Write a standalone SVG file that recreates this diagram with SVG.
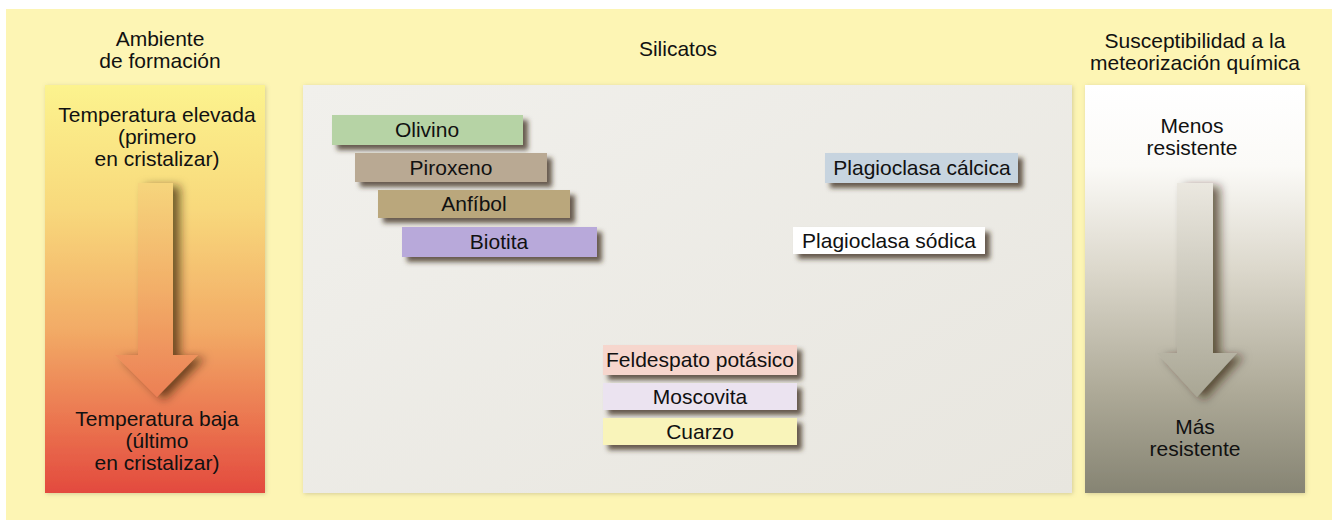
<svg xmlns="http://www.w3.org/2000/svg" width="1332" height="520" viewBox="0 0 1332 520">
  <style>
    text { font-family: "Liberation Sans", Arial, sans-serif; font-size: 21px; fill: #111; text-anchor: middle; }
    .bar { filter: url(#barShadow); }
    .panel { filter: url(#panelShadow); }
  </style>
  <defs>
    <linearGradient id="warm" x1="0" y1="0" x2="0" y2="1">
      <stop offset="0" stop-color="#fcf38e"/>
      <stop offset="0.3" stop-color="#f8d97c"/>
      <stop offset="0.6" stop-color="#f2ab66"/>
      <stop offset="0.82" stop-color="#eb7650"/>
      <stop offset="1" stop-color="#e34a3e"/>
    </linearGradient>
    <linearGradient id="warmArrow" x1="0" y1="0" x2="0" y2="1">
      <stop offset="0" stop-color="#f6d57c"/>
      <stop offset="0.5" stop-color="#f2ae68"/>
      <stop offset="1" stop-color="#ec7f55"/>
    </linearGradient>
    <linearGradient id="grey" x1="0" y1="0" x2="0" y2="1">
      <stop offset="0" stop-color="#ffffff"/>
      <stop offset="0.2" stop-color="#fbfaf7"/>
      <stop offset="0.45" stop-color="#dcd8cc"/>
      <stop offset="0.75" stop-color="#aeaa98"/>
      <stop offset="1" stop-color="#868473"/>
    </linearGradient>
    <linearGradient id="greyArrow" x1="0" y1="0" x2="0" y2="1">
      <stop offset="0" stop-color="#ebe8e0"/>
      <stop offset="1" stop-color="#a9a694"/>
    </linearGradient>
    <linearGradient id="centerFill" x1="0" y1="0" x2="1" y2="1">
      <stop offset="0" stop-color="#f1f0ec"/>
      <stop offset="1" stop-color="#e8e6df"/>
    </linearGradient>
    <filter id="barShadow" x="-10%" y="-30%" width="130%" height="180%">
      <feGaussianBlur in="SourceAlpha" stdDeviation="2.5"/>
      <feOffset dx="5" dy="5" result="b"/>
      <feFlood flood-color="#3a2a1a" flood-opacity="0.75"/>
      <feComposite in2="b" operator="in"/>
      <feMerge><feMergeNode/><feMergeNode in="SourceGraphic"/></feMerge>
    </filter>
    <filter id="panelShadow" x="-5%" y="-5%" width="110%" height="110%">
      <feGaussianBlur in="SourceAlpha" stdDeviation="2"/>
      <feOffset dx="1" dy="1" result="b"/>
      <feFlood flood-color="#8a8060" flood-opacity="0.35"/>
      <feComposite in2="b" operator="in"/>
      <feMerge><feMergeNode/><feMergeNode in="SourceGraphic"/></feMerge>
    </filter>
    <filter id="arrowShadow" x="-50%" y="-20%" width="200%" height="140%">
      <feGaussianBlur in="SourceAlpha" stdDeviation="5"/>
      <feOffset dx="7" dy="3" result="b"/>
      <feFlood flood-color="#2a1a0a" flood-opacity="0.65"/>
      <feComposite in2="b" operator="in"/>
      <feMerge><feMergeNode/><feMergeNode in="SourceGraphic"/></feMerge>
    </filter>
  </defs>

  <rect x="0" y="0" width="1332" height="520" fill="#ffffff"/>
  <rect x="6" y="9" width="1326" height="511" fill="#fdf5b4"/>

  <g id="left-panel">
    <text x="160" y="46">Ambiente</text>
    <text x="160" y="68">de formación</text>
    <rect class="panel" x="45" y="85" width="220" height="408" fill="url(#warm)"/>
    <text x="157" y="122">Temperatura elevada</text>
    <text x="157" y="144">(primero</text>
    <text x="157" y="166">en cristalizar)</text>
    <path d="M138,183 H173 V355 H198 L157,397 L115,355 H138 Z" fill="url(#warmArrow)" filter="url(#arrowShadow)"/>
    <text x="157" y="426">Temperatura baja</text>
    <text x="157" y="448">(último</text>
    <text x="157" y="470">en cristalizar)</text>
  </g>

  <g id="center-panel">
    <text x="678" y="56">Silicatos</text>
    <rect class="panel" x="303" y="85" width="769" height="408" fill="url(#centerFill)"/>
  </g>

  <g id="olivino">
    <rect class="bar" x="332" y="115" width="191" height="30" fill="#b6d3a5"/>
    <text x="427" y="137">Olivino</text>
  </g>
  <g id="piroxeno">
    <rect class="bar" x="355" y="153" width="192" height="29" fill="#b9a993"/>
    <text x="451" y="175">Piroxeno</text>
  </g>
  <g id="anfibol">
    <rect class="bar" x="378" y="190" width="192" height="28" fill="#baa77c"/>
    <text x="474" y="211">Anfíbol</text>
  </g>
  <g id="biotita">
    <rect class="bar" x="402" y="227" width="195" height="30" fill="#b8a9da"/>
    <text x="499" y="249">Biotita</text>
  </g>
  <g id="plagioclasa-calcica">
    <rect class="bar" x="825" y="153" width="193" height="30" fill="#c7d4df"/>
    <text x="922" y="175">Plagioclasa cálcica</text>
  </g>
  <g id="plagioclasa-sodica">
    <rect class="bar" x="793" y="227" width="192" height="27" fill="#ffffff"/>
    <text x="889" y="248">Plagioclasa sódica</text>
  </g>
  <g id="feldespato">
    <rect class="bar" x="603" y="345" width="194" height="30" fill="#f6d6cd"/>
    <text x="700" y="367">Feldespato potásico</text>
  </g>
  <g id="moscovita">
    <rect class="bar" x="603" y="383" width="194" height="27" fill="#ebe3f0"/>
    <text x="700" y="404">Moscovita</text>
  </g>
  <g id="cuarzo">
    <rect class="bar" x="603" y="418" width="194" height="27" fill="#f9f4ba"/>
    <text x="700" y="439">Cuarzo</text>
  </g>

  <g id="right-panel">
    <text x="1195" y="48">Susceptibilidad a la</text>
    <text x="1195" y="70">meteorización química</text>
    <rect class="panel" x="1085" y="85" width="220" height="408" fill="url(#grey)"/>
    <text x="1192" y="133">Menos</text>
    <text x="1192" y="155">resistente</text>
    <path d="M1177,183 H1213 V353 H1237 L1197,397 L1157,353 H1177 Z" fill="url(#greyArrow)" filter="url(#arrowShadow)"/>
    <text x="1195" y="434">Más</text>
    <text x="1195" y="456">resistente</text>
  </g>
  <g id="connectors"/>
</svg>
